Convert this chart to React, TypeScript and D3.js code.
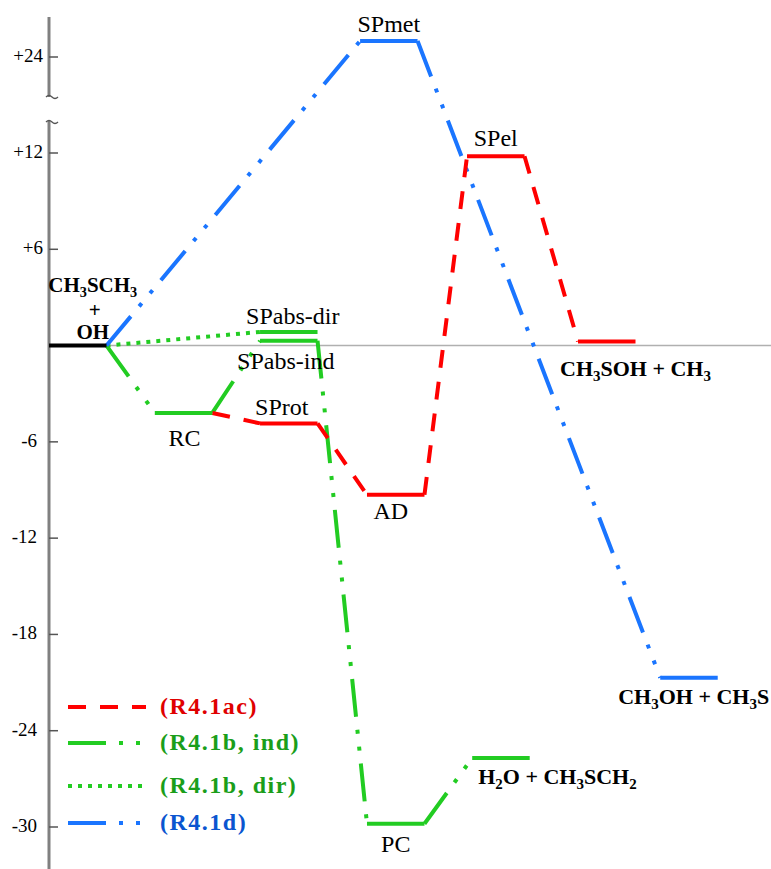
import * as d3 from 'd3';
import React from 'react';

// energy levels (kcal/mol)
const species = ["R", "RC", "SPabs-dir", "SPabs-ind", "SProt", "AD", "SPel", "P1", "SPmet", "P2", "PC", "P3"];
const energies = [0, -4.2, 0.85, 0.3, -4.85, -9.3, 11.8, 0.25, 26, -20.7, -29.8, -25.7];
// reaction coordinate where each level starts (levels are 1 unit wide)
const positions = [0, 1.84, 3.67, 3.67, 3.67, 5.53, 7.27, 9.2, 5.41, 10.63, 5.53, 7.36];
const levelSeries = ["none", "ind", "ind", "ind", "ac", "ac", "ac", "ac", "d", "d", "ind", "ind"];

const pathAc = ["RC", "SProt", "AD", "SPel", "P1"];
const pathInd = ["R", "RC", "SPabs-ind", "PC", "P3"];
const pathDir = ["R", "SPabs-dir"];
const pathD = ["R", "SPmet", "P2"];

const legendLabels = ["(R4.1ac)", "(R4.1b, ind)", "(R4.1b, dir)", "(R4.1d)"];
const legendKeys = ["ac", "ind", "dir", "d"];
const yTicks = [24, 12, 6, -6, -12, -18, -24, -30];

const FONT = "'Liberation Serif', 'Times New Roman', Times, serif";
const colors: any = { none: "#000", ac: "#ff0000", ind: "#22cc22", dir: "#22cc22", d: "#1a75ff" };
const textColors: any = { ac: "#e00000", ind: "#1a9e1a", dir: "#1a9e1a", d: "#0a55d0" };
const dashes: any = { ac: "18,14", ind: "38,13,4,13,4,13", dir: "4,6", d: "38,13,4,13,4,13" };

// label placement relative to level (dx from centre, dy from level)
const labelStyle: any = {
  SPmet: { text: "SPmet", dx: 0, dy: -9 },
  SPel: { text: "SPel", dx: 0, dy: -10 },
  "SPabs-dir": { text: "SPabs-dir", dx: 4, dy: -8 },
  "SPabs-ind": { text: "SPabs-ind", dx: -3, dy: 28 },
  SProt: { text: "SProt", dx: -7, dy: -8 },
  RC: { text: "RC", dx: 1, dy: 33 },
  AD: { text: "AD", dx: -5, dy: 24 },
  PC: { text: "PC", dx: 0, dy: 28 },
};
const chemStyle: any = {
  P1: { text: "CH_3SOH + CH_3", dx: -18, dy: 34 },
  P2: { text: "CH_3OH + CH_3S", dx: -42, dy: 26 },
  P3: { text: "H_2O + CH_3SCH_2", dx: 6, dy: 26 },
};

const W = 771, H = 869;
const x = d3.scaleLinear().domain([0, 12]).range([49, 49 + 12 * 57.5]);
const y = d3.scaleLinear().domain([-30, 12, 24]).range([827, 153, 57]);
const line = d3.line<[number, number]>();
const idx = (s: string) => species.indexOf(s);

function Chem({ text, px, py, anchor = "start", size = 22 }: any) {
  const parts = text.split(/(_\d)/).filter((p: string) => p.length);
  let shifted = false;
  return (
    <text x={px} y={py} textAnchor={anchor} style={{ fontFamily: FONT }} fontWeight="bold" fontSize={size} fill="#000">
      {parts.map((p: string, i: number) => {
        if (p.startsWith("_")) {
          shifted = true;
          return <tspan key={i} dy={5} fontSize={size * 0.68}>{p.slice(1)}</tspan>;
        }
        const dy = shifted ? -5 : 0;
        shifted = false;
        return <tspan key={i} dy={dy}>{p}</tspan>;
      })}
    </text>
  );
}

export default function App() {
  const connectors = (path: string[], key: string) =>
    d3.pairs(path).map(([a, b], i) => {
      const ia = idx(a), ib = idx(b);
      const d = line([[x(positions[ia] + 1), y(energies[ia])], [x(positions[ib]), y(energies[ib])]]);
      return <path key={key + i} d={d || ""} stroke={colors[key]} strokeWidth={4} strokeDasharray={dashes[key]} fill="none" />;
    });

  const legendY = [707, 743, 786, 823];
  const zeroY = y(0);

  return (
    <svg width={W} height={H} style={{ position: "absolute", left: 0, top: 0, background: "#fff" }}>
      {/* zero reference line */}
      <line x1={49} x2={W} y1={zeroY} y2={zeroY} stroke="#b0b0b0" strokeWidth={1.5} />
      {/* broken axis */}
      <line x1={49} x2={49} y1={17} y2={97} stroke="#808080" strokeWidth={3} />
      <line x1={49} x2={49} y1={121} y2={H} stroke="#808080" strokeWidth={3} />
      <path d="M46,97 q3,-3 6,0 t6,0" stroke="#555" strokeWidth={1.3} fill="none" />
      <path d="M46,122 q3,-3 6,0 t6,0" stroke="#555" strokeWidth={1.3} fill="none" />
      {yTicks.map(t => (
        <g key={t}>
          <line x1={49} x2={58} y1={y(t)} y2={y(t)} stroke="#555" strokeWidth={1.5} />
          <text x={t > 0 ? 43 : 37} y={y(t) + 5} textAnchor="end" style={{ fontFamily: FONT }} fontSize={19} fill="#000">
            {t > 0 ? "+" + t : String(t)}
          </text>
        </g>
      ))}

      {connectors(pathInd, "ind")}
      {connectors(pathDir, "dir")}
      {connectors(pathD, "d")}
      {connectors(pathAc, "ac")}

      {species.map((s, i) => (
        <line key={s} x1={x(positions[i])} x2={x(positions[i] + 1)} y1={y(energies[i])} y2={y(energies[i])}
          stroke={colors[levelSeries[i]]} strokeWidth={4} />
      ))}

      {Object.keys(labelStyle).map(s => {
        const i = idx(s), st = labelStyle[s];
        return (
          <text key={s} x={x(positions[i] + 0.5) + st.dx} y={y(energies[i]) + st.dy} textAnchor="middle"
            style={{ fontFamily: FONT }} fontSize={24} fill="#000">{st.text}</text>
        );
      })}
      {Object.keys(chemStyle).map(s => {
        const i = idx(s), st = chemStyle[s];
        return <Chem key={s} text={st.text} px={x(positions[i]) + st.dx} py={y(energies[i]) + st.dy} />;
      })}
      <Chem text="CH_3SCH_3" px={x(0.5) + 15} py={zeroY - 54} anchor="middle" size={21} />
      <Chem text="+" px={x(0.5) + 17} py={zeroY - 29} anchor="middle" size={21} />
      <Chem text="OH" px={x(0.5) + 15} py={zeroY - 7} anchor="middle" size={21} />

      {legendKeys.map((k, i) => (
        <g key={k}>
          <line x1={68} x2={146} y1={legendY[i]} y2={legendY[i]} stroke={colors[k]} strokeWidth={4}
            strokeDasharray={dashes[k]} />
          <text x={160} y={legendY[i] + 7} style={{ fontFamily: FONT }} fontWeight="bold" fontSize={24}
            letterSpacing={1.5} fill={textColors[k]}>{legendLabels[i]}</text>
        </g>
      ))}
    </svg>
  );
}
